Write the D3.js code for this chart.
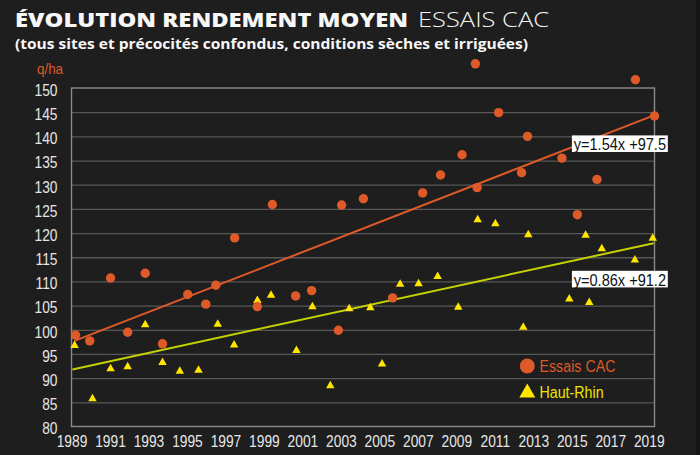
<!DOCTYPE html>
<html><head><meta charset="utf-8">
<script src="https://cdn.jsdelivr.net/npm/d3@7"></script>
<style>html,body{margin:0;padding:0;background:#1e1e1e;} svg{display:block}</style>
</head><body>
<svg id="c" width="700" height="455"></svg>
<script>
// ---- data ----
const essaisYears = [1989.21,1989.95,1991.03,1991.92,1992.83,1993.73,1995.04,1995.98,1996.50,1997.48,1998.66,1999.44,2000.65,2001.48,2002.87,2003.04,2004.17,2005.69,2007.25,2008.18,2009.30,2009.99,2010.08,2011.20,2012.39,2012.70,2014.49,2015.29,2016.31,2018.31,2019.30];
const essaisValues = [98.9,97.7,110.7,99.5,111.7,97.1,107.3,105.3,109.2,119.0,104.8,125.9,107.0,108.1,99.9,125.8,127.1,106.6,128.3,132.0,136.2,155.0,129.4,144.9,132.5,140.0,135.5,123.8,131.1,151.7,144.2];
const hautRhinYears = [1989.16,1990.09,1991.03,1991.92,1992.83,1993.73,1994.63,1995.60,1996.60,1997.45,1998.66,1999.37,2000.69,2001.52,2002.45,2003.43,2004.53,2005.14,2006.08,2007.04,2008.03,2009.10,2010.11,2011.03,2012.48,2012.74,2014.87,2015.72,2015.91,2016.56,2018.28,2019.21];
const hautRhinValues = [97.0,86.0,92.2,92.6,101.3,93.5,91.7,91.9,101.4,97.1,106.3,107.4,96.0,105.0,88.7,104.6,104.8,93.2,109.7,109.8,111.3,104.9,123.0,122.2,100.8,119.9,106.6,119.8,105.9,117.0,114.7,119.2];
const xTickLabels = [1989,1991,1993,1995,1997,1999,2001,2003,2005,2007,2009,2011,2013,2015,2017,2019];
const yTickLabels = [80,85,90,95,100,105,110,115,120,125,130,135,140,145,150];
const seriesNames = ["Essais CAC","Haut-Rhin"];
const trendLabels = ["y=1.54x +97.5","y=0.86x +91.2"];
const trendStartYears = [1989.15,1989.05];
const trendStartValues = [97.7,91.8];
const trendEndYears = [2019.3,2019.25];
const trendEndValues = [144.4,117.9];
const trendLabelYears = [2017.5,2017.5];
const trendLabelValues = [138.5,110.5];

// ---- styles ----
const BG = "#1e1e1e", RED = "#df5a29", YEL = "#ffe500", YLINE = "#c6d200";
const TXT = "#e6e6e6";
const LS = "'Liberation Sans', Arial, sans-serif";

const svg = d3.select("#c");
svg.append("rect").attr("width",700).attr("height",455).attr("fill",BG);
svg.append("rect").attr("x",696).attr("width",4).attr("height",455).attr("fill","#151515");

function squeeze(sel, ratio){
  sel.each(function(){
    const w = this.getComputedTextLength();
    d3.select(this).attr("textLength", w*ratio).attr("lengthAdjust","spacingAndGlyphs");
  });
}

// title
svg.append("text").attr("x",15).attr("y",26.7)
  .attr("font-family","'Open Sans', sans-serif").attr("font-weight",800).attr("font-size",19.5)
  .attr("fill","#f7f7f7").attr("textLength",393).attr("lengthAdjust","spacingAndGlyphs")
  .text("ÉVOLUTION RENDEMENT MOYEN");
svg.append("text").attr("x",418).attr("y",26.7)
  .attr("font-family","'Open Sans', sans-serif").attr("font-weight",300).attr("font-size",19.5)
  .attr("fill","#f7f7f7").attr("textLength",131).attr("lengthAdjust","spacingAndGlyphs")
  .text("ESSAIS CAC");
svg.append("text").attr("x",15).attr("y",48.5)
  .attr("font-family","'Open Sans', sans-serif").attr("font-weight",700).attr("font-size",15)
  .attr("fill","#f7f7f7").attr("textLength",513).attr("lengthAdjust","spacingAndGlyphs")
  .text("(tous sites et précocités confondus, conditions sèches et irriguées)");

// scales
const x = d3.scaleLinear().domain([1989, 2019.3]).range([71.5, 654.5]);
const y = d3.scaleLinear().domain([80, 150]).range([426.5, 88]);
const [x0, x1] = x.range();

// y axis + gridlines
const yAx = svg.append("g").attr("transform",`translate(${x0},0)`)
  .call(d3.axisLeft(y).tickValues(yTickLabels).tickFormat(d=>d).tickSize(-(x1-x0)).tickPadding(14));
yAx.select(".domain").remove();
yAx.selectAll(".tick line").attr("stroke","#575757").attr("stroke-width",1.3)
  .attr("display", d => (d===80||d===150) ? "none" : null);
yAx.selectAll(".tick text").attr("font-family",LS).attr("font-size",16).attr("fill",TXT).attr("dy","0.46em");
squeeze(yAx.selectAll(".tick text"), 0.86);

// x axis
const xAx = svg.append("g").attr("transform",`translate(0,${y(80)})`)
  .call(d3.axisBottom(x).tickValues(xTickLabels).tickFormat(d=>d).tickSize(0).tickPadding(9.5));
xAx.select(".domain").remove();
xAx.selectAll(".tick text").attr("font-family",LS).attr("font-size",16).attr("fill",TXT);
squeeze(xAx.selectAll(".tick text"), 0.86);

// frame
svg.append("rect").attr("x",x0).attr("y",y(150)).attr("width",x1-x0).attr("height",y(80)-y(150))
  .attr("fill","none").attr("stroke","#8a8a8a").attr("stroke-width",1.4);

// y unit
const unit = svg.append("text").attr("x",63).attr("y",74).attr("text-anchor","end")
  .attr("font-family",LS).attr("font-size",15).attr("fill",RED).text("q/ha");
squeeze(unit, 0.89);

// trend lines
const line = d3.line().x(d=>x(d[0])).y(d=>y(d[1]));
const trendColors = [RED, YLINE];
trendLabels.forEach((lab,i)=>{
  svg.append("path")
    .attr("d", line([[trendStartYears[i],trendStartValues[i]],[trendEndYears[i],trendEndValues[i]]]))
    .attr("fill","none").attr("stroke",trendColors[i]).attr("stroke-width",2);
});

// points
const tri = (w,h) => `M0,${-h/2}L${w/2},${h/2}L${-w/2},${h/2}Z`;
svg.append("g").selectAll("path").data(hautRhinYears.map((yr,i)=>[yr,hautRhinValues[i]]))
  .join("path").attr("d",tri(8.5,7.5)).attr("fill",YEL)
  .attr("transform",d=>`translate(${x(d[0])},${y(d[1])})`);
svg.append("g").selectAll("circle").data(essaisYears.map((yr,i)=>[yr,essaisValues[i]]))
  .join("circle").attr("cx",d=>x(d[0])).attr("cy",d=>y(d[1])).attr("r",4.7).attr("fill",RED);

// trend labels
trendLabels.forEach((lab,i)=>{
  const g = svg.append("g").attr("transform",`translate(${x(trendLabelYears[i])},${y(trendLabelValues[i])})`);
  const rect = g.append("rect").attr("fill","#ffffff");
  const t = g.append("text").attr("y",6.5)
    .attr("font-family",LS).attr("font-size",16).attr("fill","#111").text(lab);
  const w = t.node().getComputedTextLength()*0.91;
  t.attr("x",-w/2).attr("textLength",w).attr("lengthAdjust","spacingAndGlyphs");
  rect.attr("x",-w/2-1.8).attr("width",w+3.6).attr("y",-8.2).attr("height",16.6);
});

// legend
const leg = svg.append("g");
leg.append("circle").attr("cx",527.3).attr("cy",366).attr("r",7.5).attr("fill",RED);
leg.append("path").attr("d",tri(16,14)).attr("fill",YEL).attr("transform","translate(527.3,390.5)");
const l1 = leg.append("text").attr("x",539.5).attr("y",372).attr("font-family",LS).attr("font-size",16)
  .attr("fill",RED).text(seriesNames[0]);
const l2 = leg.append("text").attr("x",539.5).attr("y",397.5).attr("font-family",LS).attr("font-size",16)
  .attr("fill","#f0e300").text(seriesNames[1]);
squeeze(l1,0.89); squeeze(l2,0.89);
</script>
</body></html>
